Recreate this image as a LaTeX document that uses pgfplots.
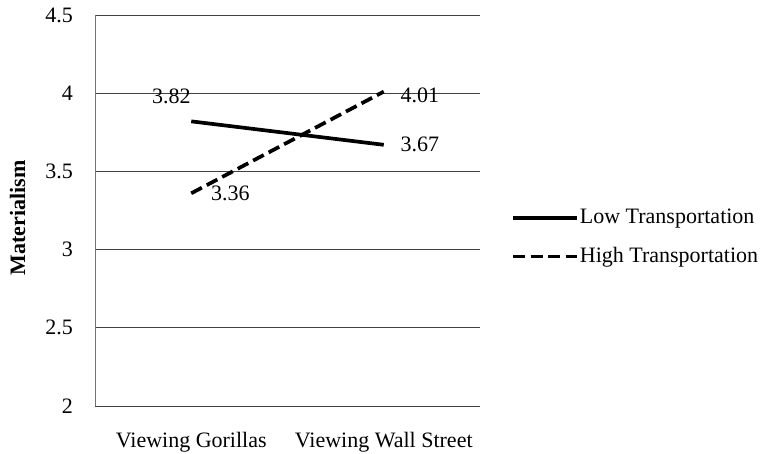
\documentclass[border=0pt]{standalone}
\usepackage{fontspec}
\setmainfont{Liberation Serif}
\usepackage{pgfplots}
\pgfplotsset{compat=1.18}
\begin{document}
\fontsize{22}{26}\selectfont
\begin{tikzpicture}
\useasboundingbox (0,0) rectangle (767pt,453pt);
\begin{axis}[
  at={(95pt,47pt)}, anchor=south west,
  scale only axis, width=385pt, height=391pt,
  xmin=0.5, xmax=2.5, ymin=2, ymax=4.5,
  clip=false,
  ytick={2,2.5,3,3.5,4,4.5},
  xtick={1,2}, xticklabels={Viewing Gorillas, Viewing Wall Street},
  axis y line*=left, axis x line*=bottom,
  axis line style={-},
  x axis line style={draw=none},
  y axis line style={draw=black!55, line width=1pt},
  major tick length=0pt,
  ymajorgrids, grid style={draw=black!75, line width=0.9pt},
  /pgf/number format/assume math mode=true,
  ticklabel style={font=\fontsize{22}{26}\selectfont},
  yticklabel style={inner sep=0pt, xshift=-22pt},
  xticklabel style={anchor=base, yshift=-41pt},
  ylabel={Materialism},
  ylabel style={at={(axis description cs:-0.2013,0.4808)}, anchor=center, font=\fontsize{22}{26}\selectfont\bfseries},
  legend style={at={(axis description cs:1.0805,0.4309)}, anchor=west, draw=none, fill=none, inner sep=0pt, row sep=18pt, font=\fontsize{22}{26}\selectfont, nodes={inner sep=1pt}},
  legend cell align=left,
  legend image code/.code={\draw[#1] (0pt,0pt) -- (64pt,0pt);},
]
\addplot[black, line width=3.7pt] coordinates {(1,3.82) (2,3.67)};
\addplot[black, line width=3.7pt, dash pattern=on 12pt off 5.5pt] coordinates {(1,3.36) (2,4.01)};
\legend{Low Transportation, High Transportation}
\node[anchor=center, xshift=-20pt, yshift=25.5pt] at (axis cs:1,3.82) {3.82};
\node[anchor=center, xshift=36pt, yshift=-3.4pt] at (axis cs:2,4.01) {4.01};
\node[anchor=center, xshift=36pt] at (axis cs:2,3.67) {3.67};
\node[anchor=center, xshift=39pt] at (axis cs:1,3.36) {3.36};
\end{axis}
\end{tikzpicture}
\end{document}
